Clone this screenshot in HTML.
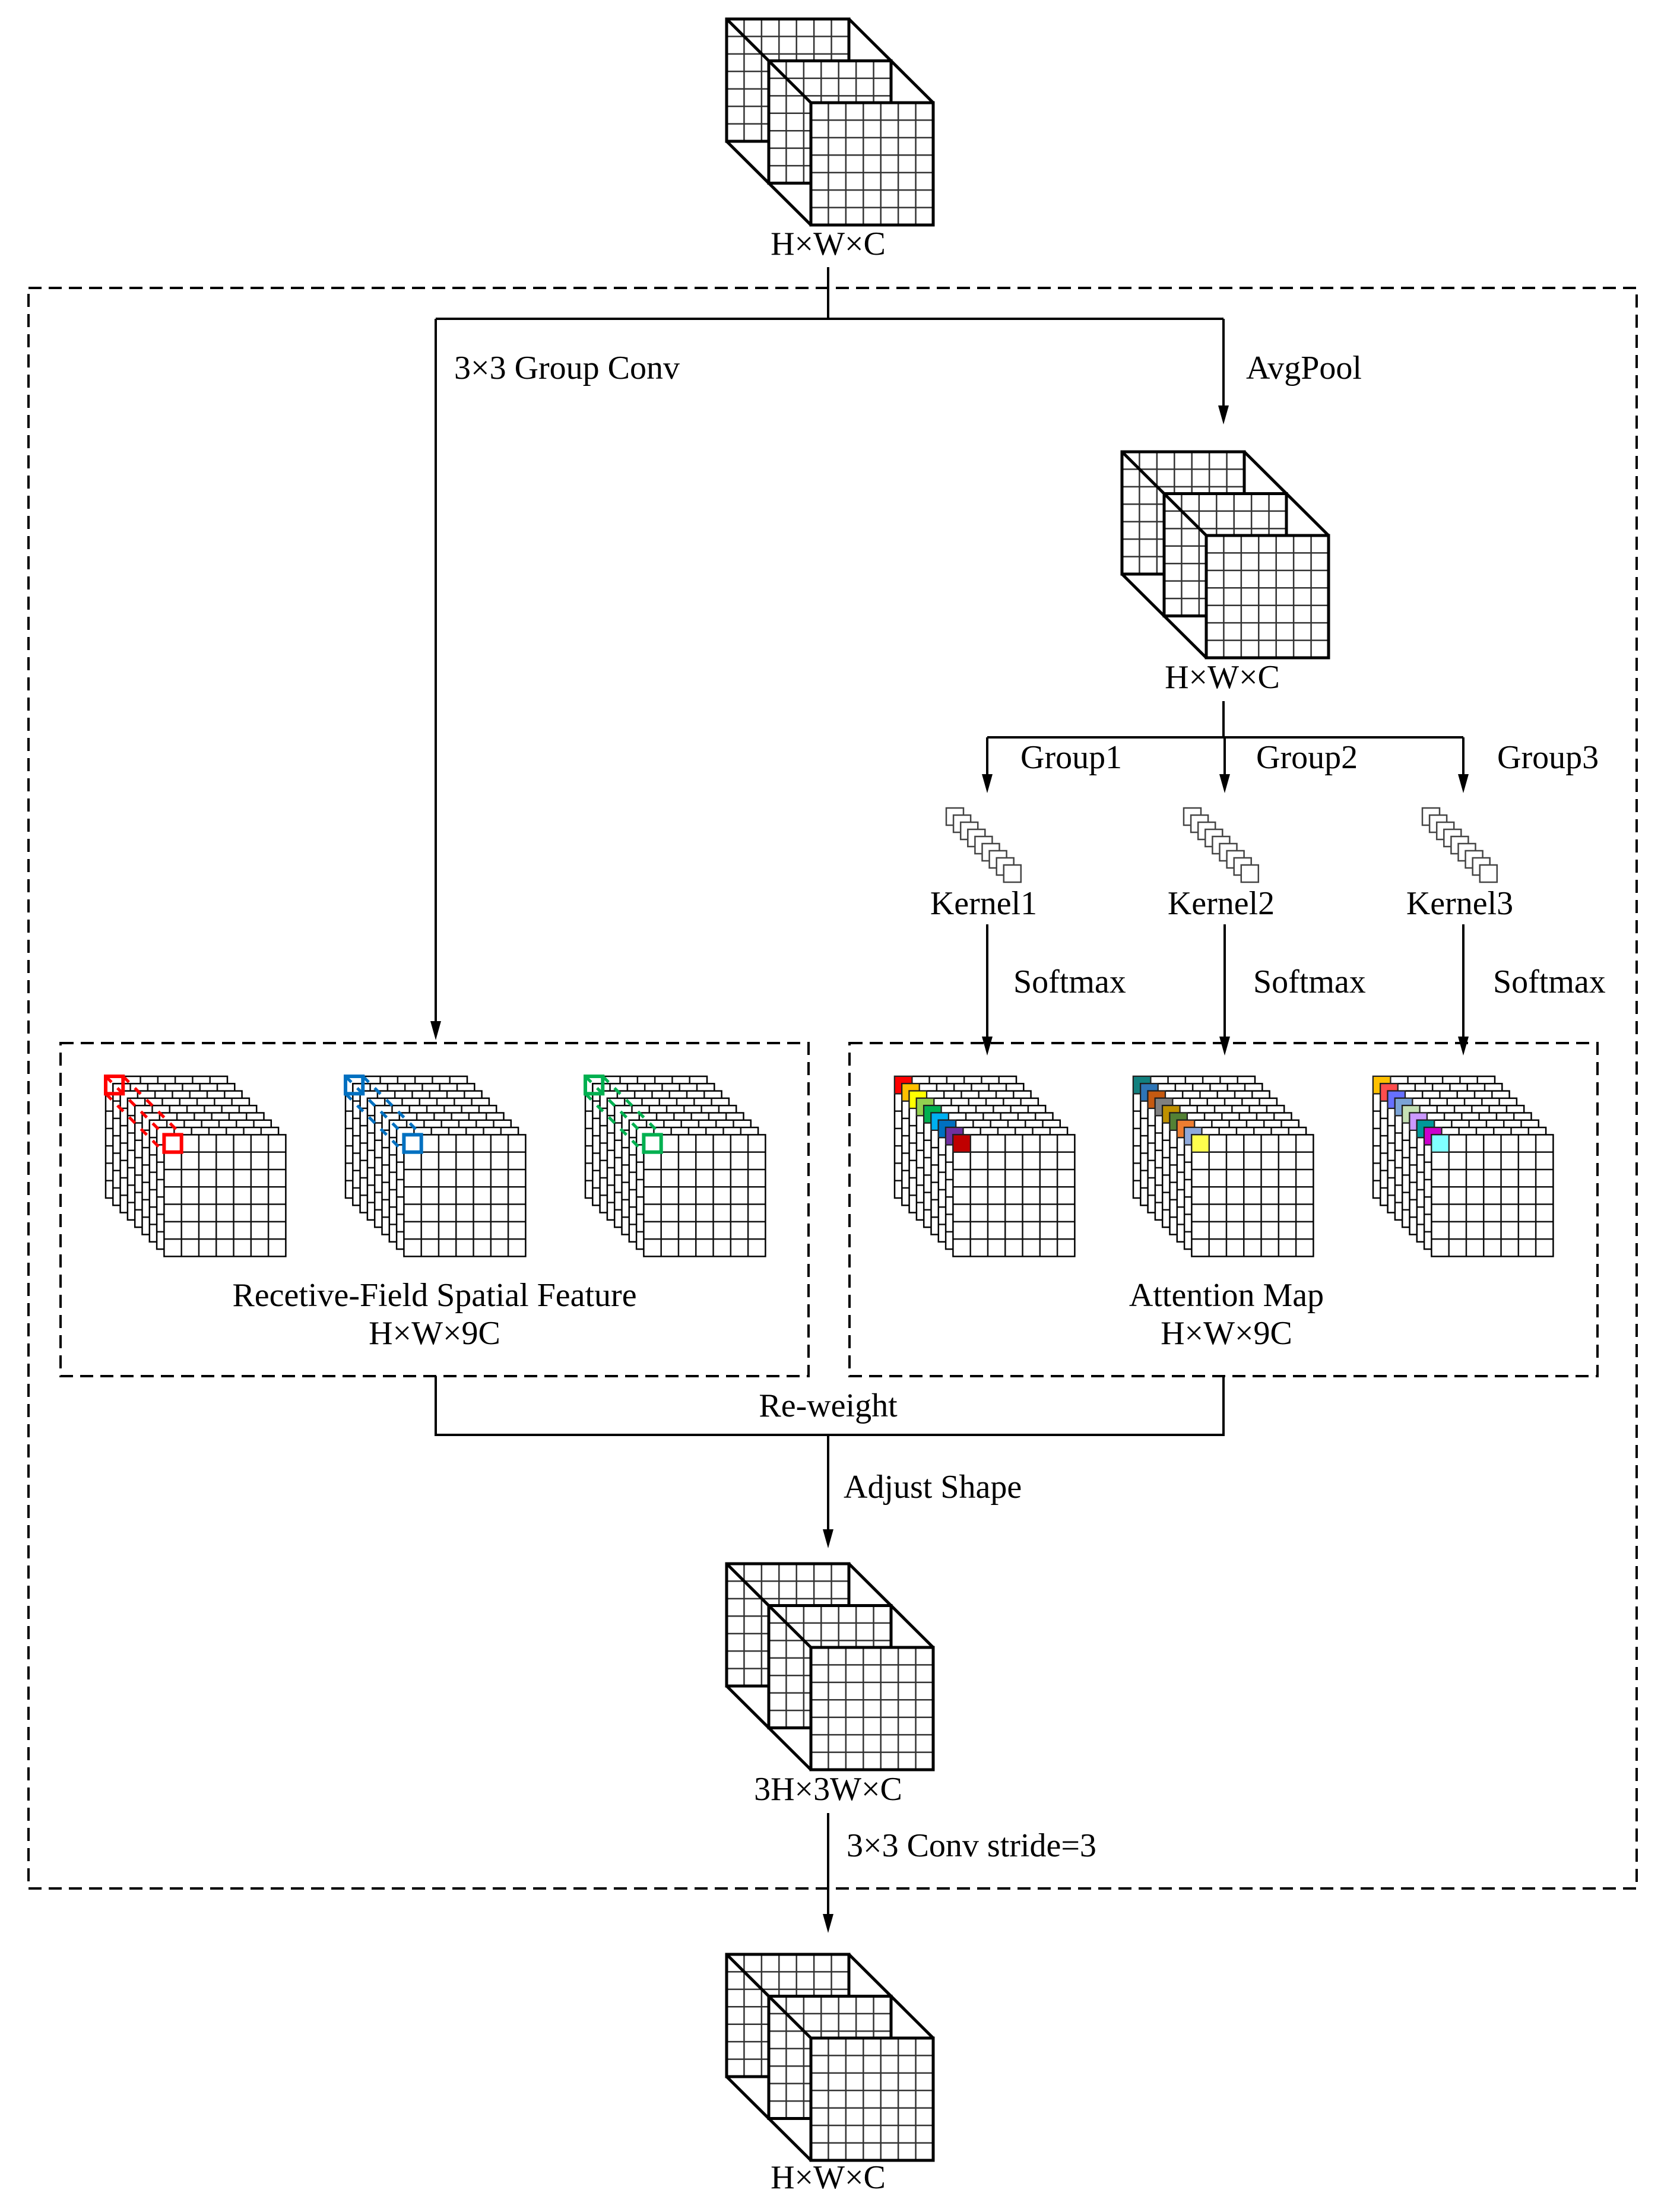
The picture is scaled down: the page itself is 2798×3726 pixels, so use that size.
<!DOCTYPE html>
<html><head><meta charset="utf-8"><style>
html,body{margin:0;padding:0;background:#fff;}
svg{display:block;}
text{font-family:"Liberation Serif","Times New Roman",serif;font-size:56px;fill:#000;dominant-baseline:central;}
</style></head><body>
<svg id="s" width="2798" height="3726" viewBox="0 0 2798 3726" xmlns="http://www.w3.org/2000/svg">
<rect x="48" y="485" width="2709" height="2696" fill="none" stroke="#000" stroke-width="4" stroke-dasharray="22,12"/>
<rect x="102" y="1757" width="1260" height="561" fill="none" stroke="#000" stroke-width="4" stroke-dasharray="22,12"/>
<rect x="1431" y="1757" width="1260" height="561" fill="none" stroke="#000" stroke-width="4" stroke-dasharray="22,12"/>
<g stroke="#000" stroke-width="4" fill="none">
<path d="M1395 450 V537 M734 537 H2061 M734 537 V1722 M2061 537 V685"/>
<path d="M2061 1181 V1242 M1663 1242 H2465 M1663 1242 V1306 M2063 1242 V1306 M2465 1242 V1306"/>
<path d="M1663 1557 V1748 M2063 1557 V1748 M2465 1557 V1748"/>
<path d="M734 2318 V2417 H2061 V2318 M1395 2417 V2578"/>
<path d="M1395 3054 V3226"/>
</g>
<g id="arrows" fill="#000"></g>
<g id="draw"></g>
<g font-family="Liberation Serif, serif" font-size="56">
<text x="1395" y="411" text-anchor="middle">H×W×C</text>
<text x="765" y="620">3×3 Group Conv</text>
<text x="2099" y="620">AvgPool</text>
<text x="2059" y="1141" text-anchor="middle">H×W×C</text>
<text x="1719" y="1276">Group1</text>
<text x="2116" y="1276">Group2</text>
<text x="2522" y="1276">Group3</text>
<text x="1657" y="1522" text-anchor="middle">Kernel1</text>
<text x="2057" y="1522" text-anchor="middle">Kernel2</text>
<text x="2459" y="1522" text-anchor="middle">Kernel3</text>
<text x="1707" y="1654">Softmax</text>
<text x="2111" y="1654">Softmax</text>
<text x="2515" y="1654">Softmax</text>
<text x="732" y="2182" text-anchor="middle">Recetive-Field Spatial Feature</text>
<text x="732" y="2246" text-anchor="middle">H×W×9C</text>
<text x="2066" y="2182" text-anchor="middle">Attention Map</text>
<text x="2066" y="2246" text-anchor="middle">H×W×9C</text>
<text x="1395" y="2368" text-anchor="middle">Re-weight</text>
<text x="1421" y="2505">Adjust Shape</text>
<text x="1395" y="3014" text-anchor="middle">3H×3W×C</text>
<text x="1426" y="3109">3×3 Conv stride=3</text>
<text x="1395" y="3668" text-anchor="middle">H×W×C</text>
</g>
</svg>
<script>
var NS="http://www.w3.org/2000/svg";
var D=document.getElementById("draw"),A=document.getElementById("arrows");
function el(t,a,p){var e=document.createElementNS(NS,t);for(var k in a)e.setAttribute(k,a[k]);(p||D).appendChild(e);return e;}
function arrow(x,y){el("polygon",{points:(x-9)+","+(y-32)+" "+(x+9)+","+(y-32)+" "+x+","+y},A);}
[[734,1752],[2061,715],[1663,1336],[2063,1336],[2465,1336],[1663,1778],[2063,1778],[2465,1778],[1395,2608],[1395,3256]].forEach(function(a){arrow(a[0],a[1]);});
function grid(x,y,s,n,sw,ow,gc){
  el("rect",{x:x,y:y,width:s,height:s,fill:"#fff",stroke:"none"});
  var c=s/n,d="";
  for(var i=1;i<n;i++){d+="M"+(x+i*c)+" "+y+"V"+(y+s)+"M"+x+" "+(y+i*c)+"H"+(x+s);}
  el("path",{d:d,stroke:gc,"stroke-width":sw,fill:"none"});
  el("rect",{x:x,y:y,width:s,height:s,fill:"none",stroke:"#000","stroke-width":ow});
}
function cube(x,y){
  var s=206,o=71,oy=70.5;
  for(var k=0;k<3;k++)grid(x+k*o,y+k*oy,s,7,2.5,5,"#333");
  var fx=x+2*o,fy=y+2*oy;
  el("path",{d:"M"+x+" "+y+"L"+fx+" "+fy+"M"+(x+s)+" "+y+"L"+(fx+s)+" "+fy+"M"+x+" "+(y+s)+"L"+fx+" "+(fy+s),stroke:"#000","stroke-width":5,fill:"none"});
  el("rect",{x:fx,y:fy,width:s,height:s,fill:"none",stroke:"#000","stroke-width":5});
}
cube(1224,32);cube(1890,761);cube(1224,2634);cube(1224,3292);
[1594,1994,2396].forEach(function(x){
  for(var k=0;k<9;k++)el("rect",{x:x+k*12.1,y:1361+k*12,width:29,height:29,fill:"#fff",stroke:"#444","stroke-width":2.5});
});
var S=205,OF=12.3;
function stack(x,y,cols){
  for(var k=0;k<9;k++){
    var gx=x+k*OF,gy=y+k*OF;
    grid(gx,gy,S,7,2.5,2.5,"#111");
    if(cols)el("rect",{x:gx,y:gy,width:S/7,height:S/7,fill:cols[k],stroke:"#222","stroke-width":2});
  }
}
function rstack(x,y,col){
  stack(x,y,null);
  var c=S/7,fx=x+8*OF,fy=y+8*OF;
  el("path",{d:"M"+x+" "+y+"L"+fx+" "+fy+"M"+(x+c)+" "+y+"L"+(fx+c)+" "+fy+"M"+x+" "+(y+c)+"L"+fx+" "+(fy+c),stroke:col,"stroke-width":5,"stroke-dasharray":"14,14",fill:"none"});
  el("rect",{x:x,y:y,width:c,height:c,fill:"none",stroke:col,"stroke-width":6});
  el("rect",{x:fx,y:fy,width:c,height:c,fill:"none",stroke:col,"stroke-width":6});
}
rstack(178,1813,"#ff0000");rstack(582,1813,"#0070c0");rstack(986,1813,"#00b050");
stack(1507,1813,["#ff0000","#ffc000","#ffff00","#92d050","#00b050","#00b0f0","#0070c0","#7030a0","#c00000"]);
stack(1909,1813,["#12807e","#2e75b6","#c55a11","#808080","#bf9000","#538135","#ed7d31","#8faadc","#ffff4d"]);
stack(2313,1813,["#ffc000","#ff4d4d","#6670ff","#7ba3d6","#c5e0b4","#cc99ff","#009999","#cc00cc","#80ffff"]);
</script>
</body></html>
